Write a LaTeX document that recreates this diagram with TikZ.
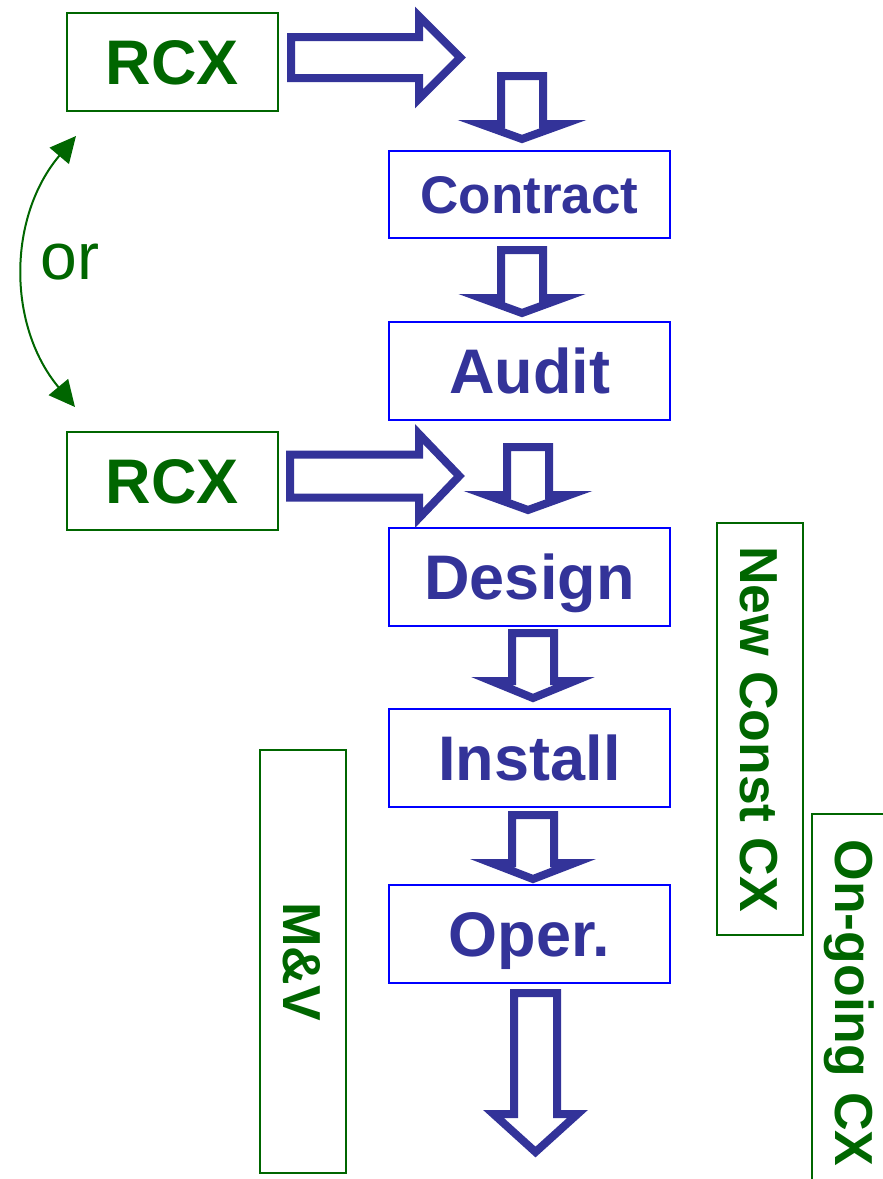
\documentclass[tikz,border=0pt]{standalone}
\usepackage{fontspec}
\setmainfont{Liberation Sans}
\usetikzlibrary{arrows.meta}
\definecolor{navy}{RGB}{51,51,153}
\definecolor{leaf}{RGB}{0,102,0}
\tikzset{>={Triangle[length=26pt,width=25pt]},
  phase/.style={draw=blue, line width=2pt, text=navy, inner sep=0pt,
    minimum width=281pt, minimum height=98pt,
    font=\fontsize{63}{63}\selectfont\bfseries, text height=45pt, text depth=0pt},
  rcx/.style={draw=leaf, line width=2pt, text=leaf, inner sep=0pt,
    minimum width=211pt, minimum height=98pt,
    font=\fontsize{63}{63}\selectfont\bfseries, text height=45pt, text depth=0pt},
  band/.style={draw=leaf, line width=2pt, text=leaf, inner sep=0pt, rotate=-90,
    minimum height=86pt,
    font=\fontsize{53.5}{53.5}\selectfont\bfseries, text height=38.3pt, text depth=0pt},
  block/.style={draw=navy, line width=8pt, fill=white}}

% hollow block arrow down: x, shaft half width, head half width, top, head base, tip
\newcommand{\blockdown}[6]{%
  \draw[block] ({#1-#2},#4) -- ({#1+#2},#4) -- ({#1+#2},#5) -- ({#1+#3},#5)
    -- (#1,#6) -- ({#1-#3},#5) -- ({#1-#2},#5) -- cycle;}
% hollow block arrow right: y, shaft half width, head half height, left, head base, tip
\newcommand{\blockright}[6]{%
  \draw[block] (#4,{#1-#2}) -- (#5,{#1-#2}) -- (#5,{#1-#3}) -- (#6,#1)
    -- (#5,{#1+#3}) -- (#5,{#1+#2}) -- (#4,{#1+#2}) -- cycle;}

\begin{document}
\begin{tikzpicture}[x=1pt,y=-1pt]
\useasboundingbox (0,0) rectangle (883,1179);
\clip (0,0) rectangle (883,1179);

\node[rcx] (rcxa) at (172.5,62) {RCX};
\node[rcx] (rcxb) at (172.5,481) {RCX};

\node[phase, font=\fontsize{53}{53}\selectfont\bfseries, minimum height=87pt, text height=38pt] (contract) at (529.5,194.5) {Contract};
\node[phase] (audit) at (529.5,371) {Audit};
\node[phase] (design) at (529.5,576.5) {Design};
\node[phase] (install) at (529.5,758) {Install};
\node[phase] (oper) at (529.5,934) {Oper.};

\node[band, minimum width=412pt] (newcx) at (760,729) {New Const CX};
\node[band, minimum width=378pt] (ongoing) at (855,1003) {On-going CX};
\node[band, minimum width=423pt] (mv) at (303,961.5) {M\&V};

\blockright{57.5}{20.5}{41.3}{291}{419}{460.3}
\blockright{476}{21.5}{42}{290}{419}{459.3}

\blockdown{522}{21}{41.5}{76}{124}{139}
\blockdown{522}{21}{41}{250}{298}{313}
\blockdown{528}{21}{41.5}{447}{495}{510}
\blockdown{533}{21}{41.5}{633}{681}{698}
\blockdown{533}{21}{41.5}{815}{863}{879}
\blockdown{535.5}{21.5}{42}{993}{1114}{1152}

\draw[<->, leaf, line width=2pt] ([shift={(10,24)}]rcxa.south west) to[bend right=40] ([shift={(9,-24)}]rcxb.north west);
\node[text=leaf, inner sep=0pt, font=\fontsize{66}{66}\selectfont] (ortext) at (70,262) {or};
\end{tikzpicture}
\end{document}
